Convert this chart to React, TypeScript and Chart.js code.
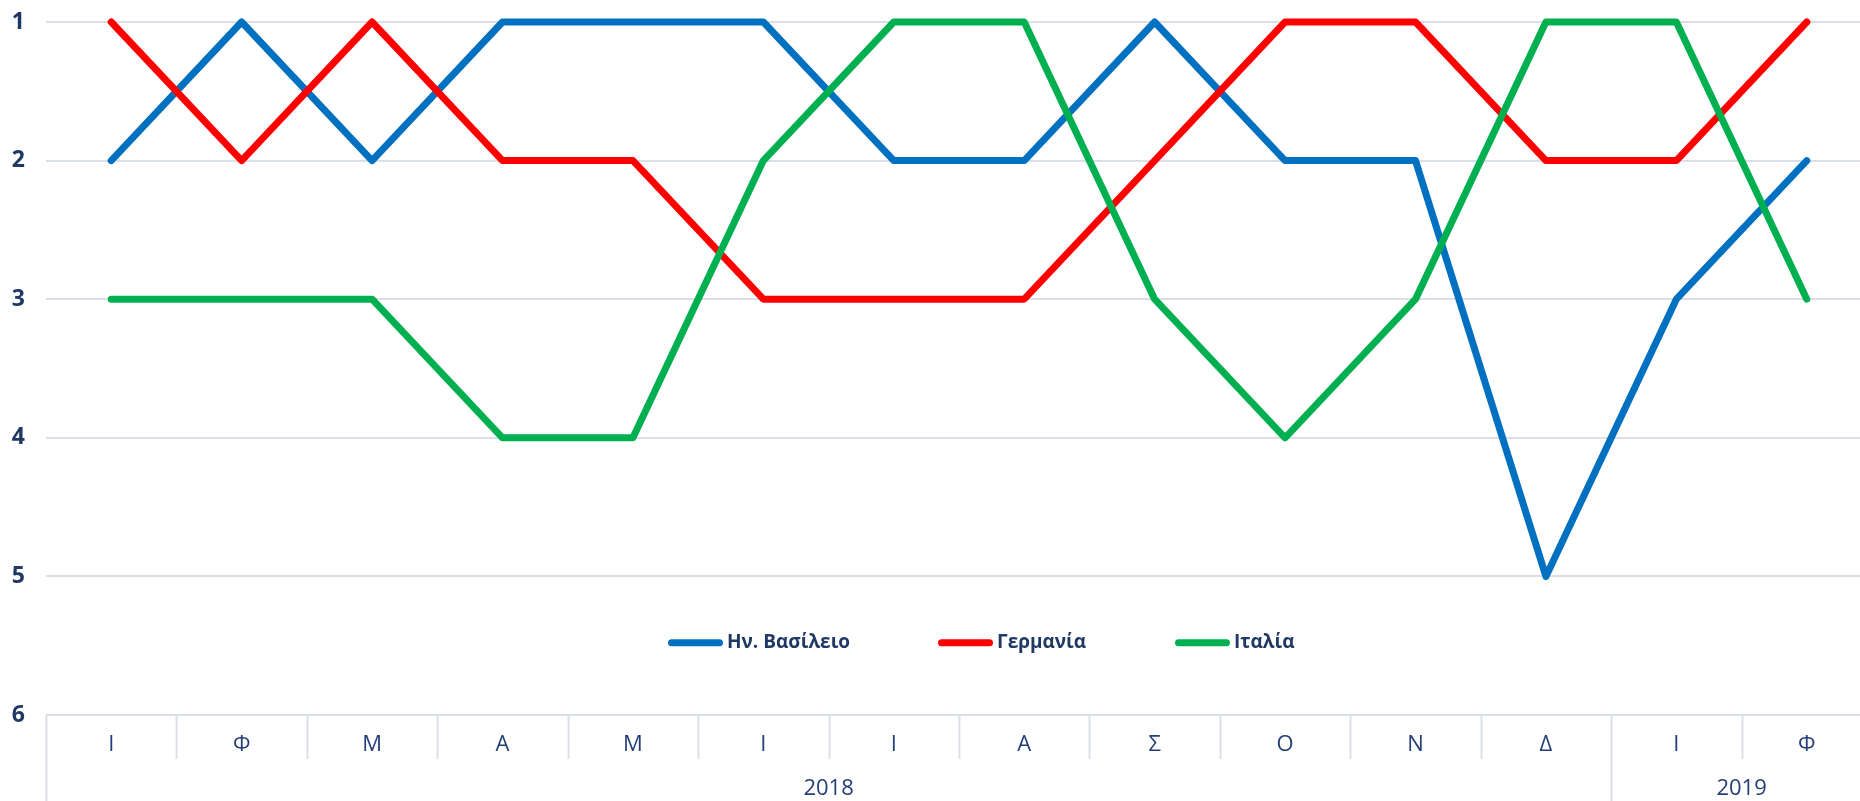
import React, { useEffect, useRef } from 'react';
import { Chart, registerables } from 'chart.js';

Chart.register(...registerables);

const months = ['Ι', 'Φ', 'Μ', 'Α', 'Μ', 'Ι', 'Ι', 'Α', 'Σ', 'Ο', 'Ν', 'Δ', 'Ι', 'Φ'];
const years = ['2018', '2019'];
const yearSpans = [12, 2];
const seriesNames = ['Ην. Βασίλειο', 'Γερμανία', 'Ιταλία'];
const ukValues = [2, 1, 2, 1, 1, 1, 2, 2, 1, 2, 2, 5, 3, 2];
const deValues = [1, 2, 1, 2, 2, 3, 3, 3, 2, 1, 1, 2, 2, 1];
const itValues = [3, 3, 3, 4, 4, 2, 1, 1, 3, 4, 3, 1, 1, 3];
const yTickValues = [1, 2, 3, 4, 5, 6];

const TEXT = '#1F3864';
const MONTH_TEXT = '#243F78';
const GRID = '#D9DEE7';
const COLORS = ['#0070C0', '#FF0000', '#00B050'];
const FONT = '"Open Sans", "Noto Sans", sans-serif';

const axisPlugin = {
  id: 'twoLevelAxis',
  afterDraw(chart: any) {
    const ctx = chart.ctx;
    const x = chart.scales.x;
    const area = chart.chartArea;
    const n = months.length;
    const half = (x.getPixelForValue(1) - x.getPixelForValue(0)) / 2;
    const boundary = (i: number) => x.getPixelForValue(i) - half;
    const yearStarts = new Set<number>();
    let acc = 0;
    yearSpans.forEach((s) => {
      yearStarts.add(acc);
      acc += s;
    });
    ctx.save();
    ctx.strokeStyle = GRID;
    ctx.lineWidth = 2;
    for (let i = 0; i < n; i++) {
      const bx = Math.round(boundary(i)) + 0.5;
      const bottom = yearStarts.has(i) ? chart.height : area.bottom + 44;
      ctx.beginPath();
      ctx.moveTo(bx, area.bottom);
      ctx.lineTo(bx, bottom);
      ctx.stroke();
    }
    ctx.fillStyle = MONTH_TEXT;
    ctx.font = `22px ${FONT}`;
    ctx.textAlign = 'center';
    ctx.textBaseline = 'middle';
    months.forEach((m, i) => ctx.fillText(m, x.getPixelForValue(i), area.bottom + 30));
    acc = 0;
    years.forEach((yl, k) => {
      const s = boundary(acc);
      const e = boundary(acc + yearSpans[k]);
      ctx.fillText(yl, (s + e) / 2, area.bottom + 74);
      acc += yearSpans[k];
    });
    ctx.restore();
  },
};

const legendPlugin = {
  id: 'inlineLegend',
  afterDraw(chart: any) {
    const ctx = chart.ctx;
    const y = chart.scales.y.getPixelForValue(5.5) - 3;
    const starts = [668, 938, 1175];
    ctx.save();
    chart.data.datasets.forEach((ds: any, i: number) => {
      const x0 = starts[i];
      ctx.strokeStyle = ds.borderColor;
      ctx.lineWidth = 7;
      ctx.lineCap = 'round';
      ctx.beginPath();
      ctx.moveTo(x0 + 3.5, y);
      ctx.lineTo(x0 + 55 - 3.5, y);
      ctx.stroke();
      ctx.fillStyle = TEXT;
      ctx.font = `bold 19px ${FONT}`;
      ctx.textAlign = 'left';
      ctx.textBaseline = 'middle';
      ctx.fillText(ds.label, x0 + 59, y);
    });
    ctx.restore();
  },
};

export default function App() {
  const canvasRef = useRef<HTMLCanvasElement | null>(null);

  useEffect(() => {
    document.body.style.margin = '0';
    document.body.style.overflow = 'hidden';
    document.documentElement.style.overflow = 'hidden';
    const canvas = canvasRef.current;
    if (!canvas) return;
    const valueSets = [ukValues, deValues, itValues];
    const chart = new Chart(canvas, {
      type: 'line',
      data: {
        labels: months,
        datasets: valueSets.map((vals, i) => ({
          label: seriesNames[i],
          data: vals,
          borderColor: COLORS[i],
          backgroundColor: COLORS[i],
          borderWidth: 7,
          pointRadius: 0,
          pointHoverRadius: 0,
          tension: 0,
          fill: false,
          clip: false as any,
          borderCapStyle: 'round' as const,
          borderJoinStyle: 'round' as const,
          order: 3 - i,
        })),
      },
      options: {
        animation: false,
        responsive: false,
        events: [],
        layout: { padding: { left: 0, top: 22, right: 0, bottom: 86 } },
        plugins: {
          legend: { display: false },
          tooltip: { enabled: false },
        },
        scales: {
          x: {
            type: 'category',
            offset: true,
            display: false,
          },
          y: {
            reverse: true,
            min: 1,
            max: 6,
            afterBuildTicks: (scale: any) => {
              scale.ticks = yTickValues.map((v) => ({ value: v }));
            },
            afterFit: (scale: any) => {
              scale.width = 46;
              scale.paddingTop = 0;
              scale.paddingBottom = 0;
            },
            ticks: {
              padding: 21,
              color: TEXT,
              font: { family: FONT, size: 23, weight: 'bold' },
              callback: (v: any) => String(v),
            },
            grid: {
              color: GRID,
              lineWidth: 2,
              drawTicks: false,
            },
            border: { display: false },
          },
        },
      },
      plugins: [axisPlugin, legendPlugin],
    });
    return () => chart.destroy();
  }, []);

  return (
    <div style={{ position: 'fixed', left: 0, top: 0, width: 1872, height: 801 }}>
      <canvas ref={canvasRef} width={1872} height={801} style={{ width: 1872, height: 801, display: 'block' }} />
    </div>
  );
}
